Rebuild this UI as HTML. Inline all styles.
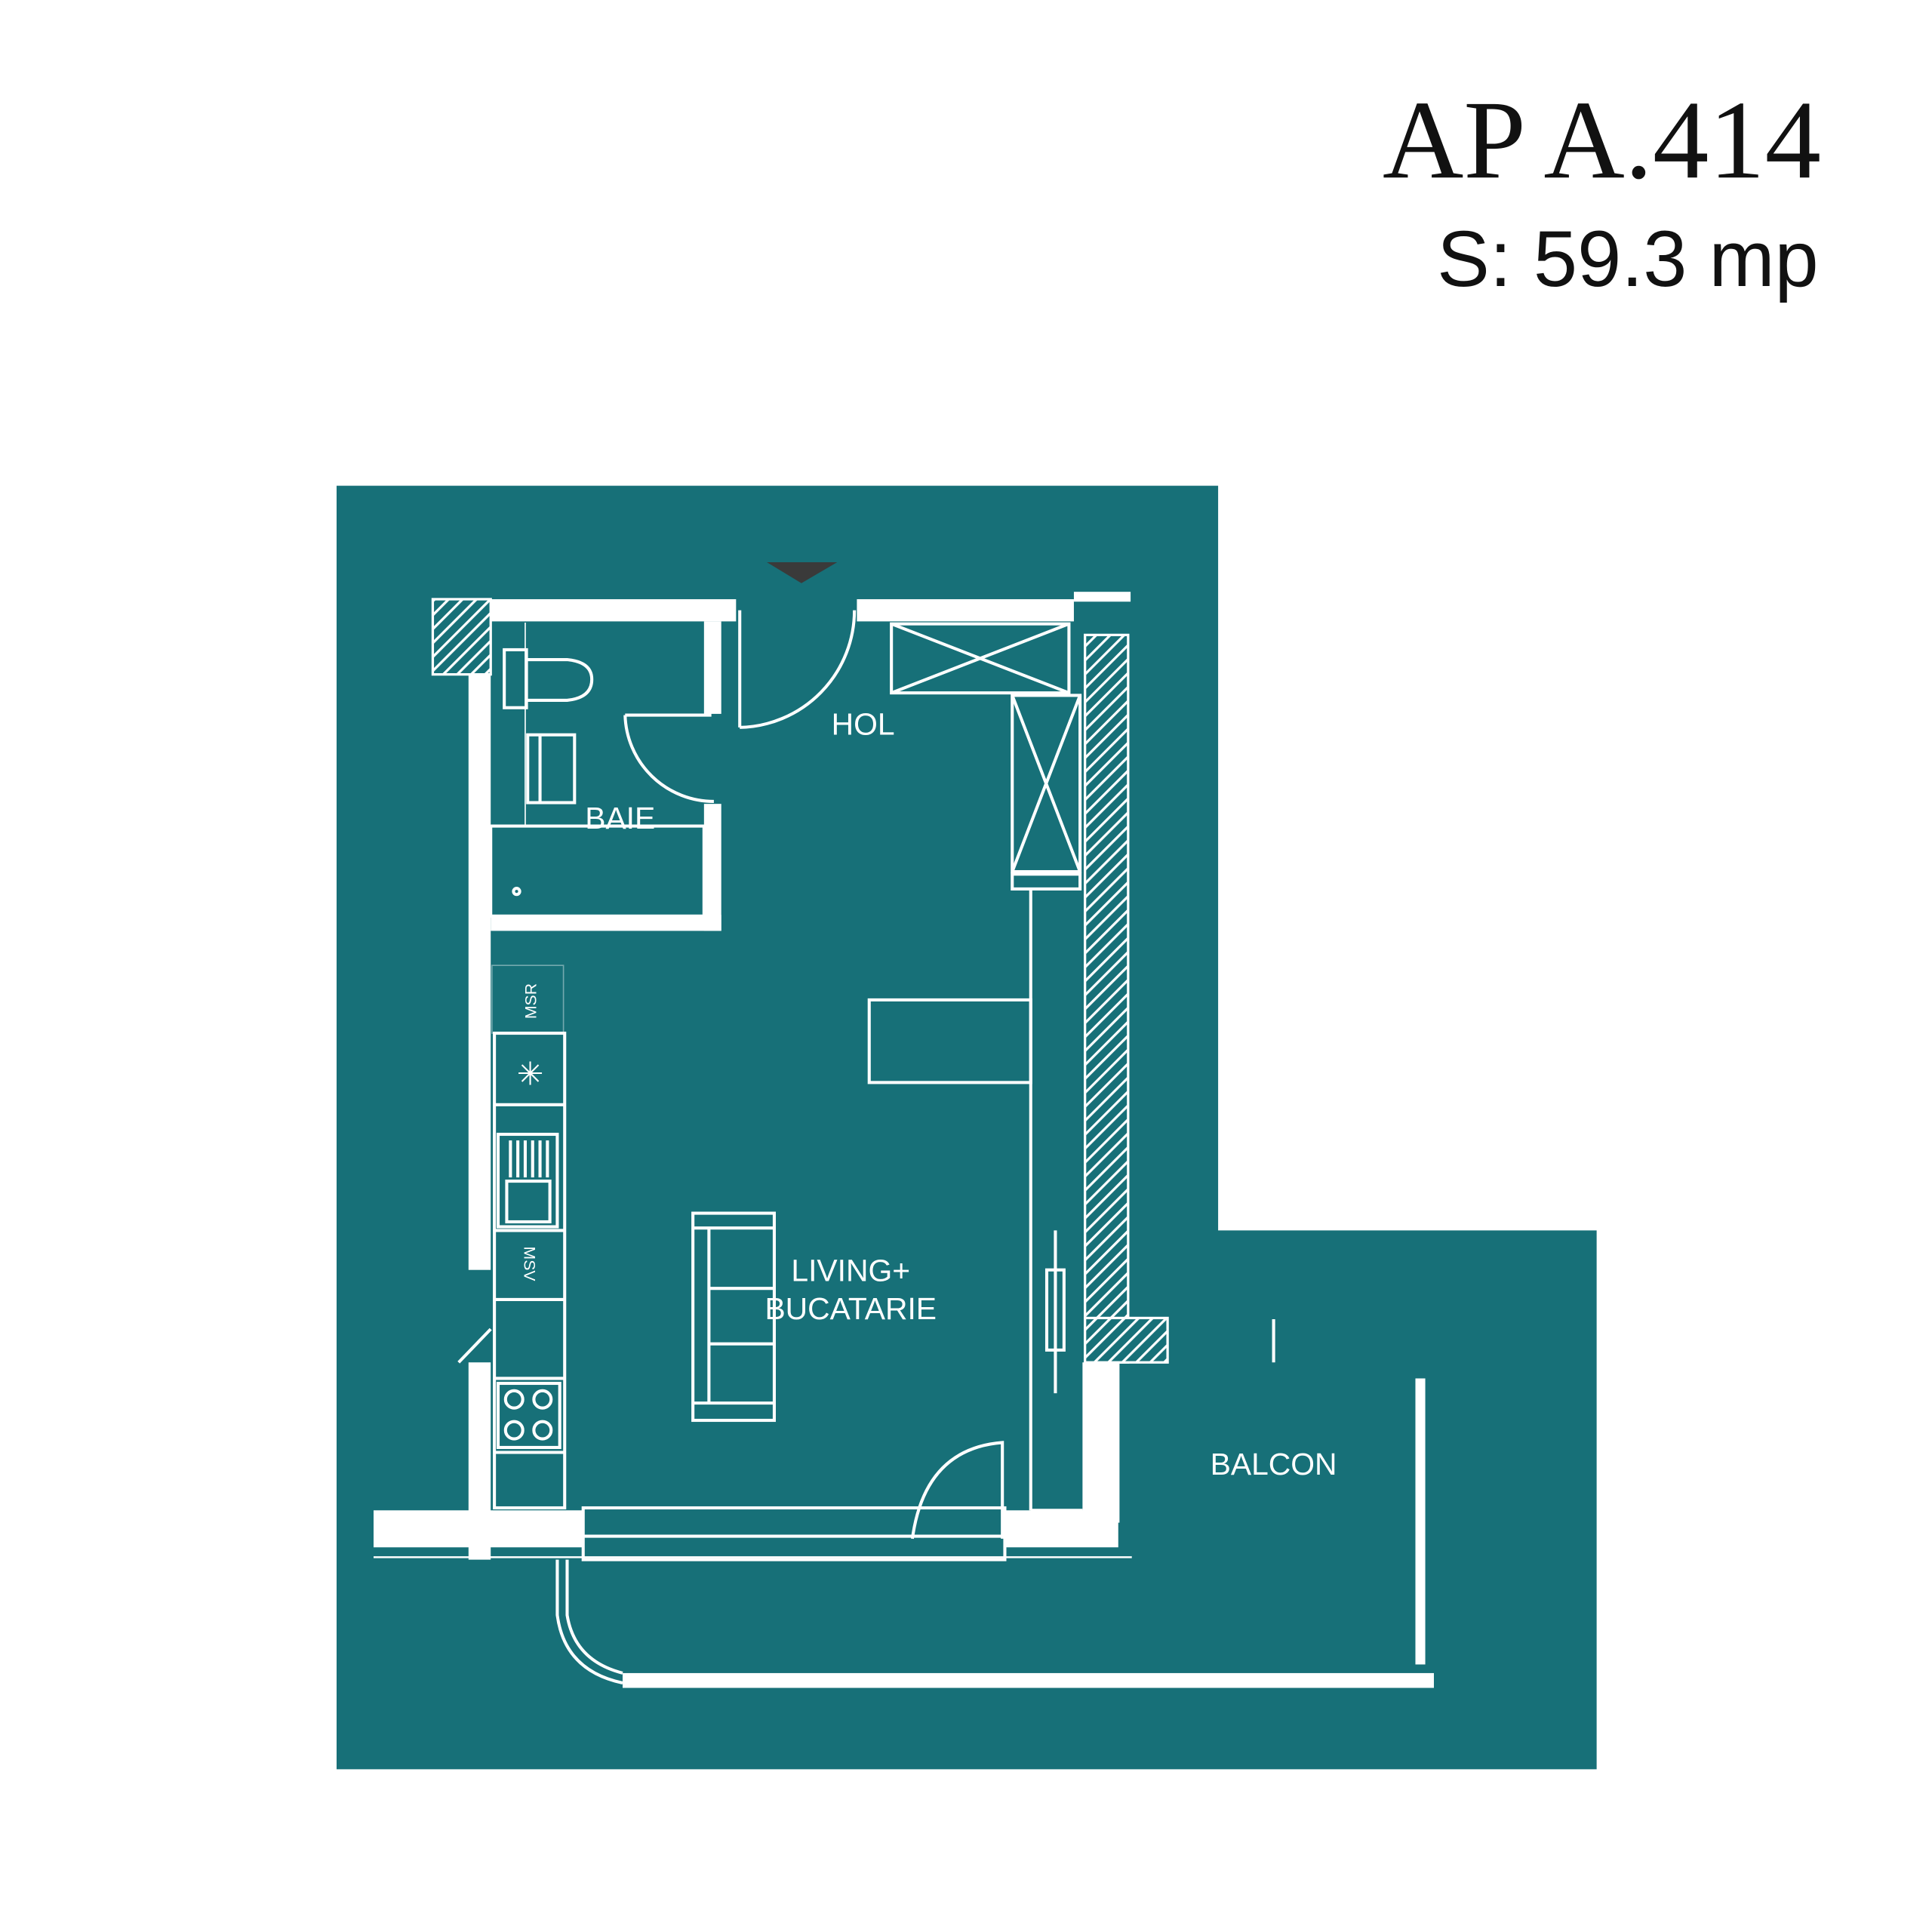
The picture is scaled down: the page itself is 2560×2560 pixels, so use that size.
<!DOCTYPE html>
<html><head><meta charset="utf-8"><style>
html,body{margin:0;padding:0;background:#fff}
svg{display:block}
</style></head><body>
<svg width="2560" height="2560" viewBox="0 0 1567 1567" xmlns="http://www.w3.org/2000/svg">
<defs>
<pattern id="h" width="8" height="8" patternUnits="userSpaceOnUse" patternTransform="rotate(45)">
<rect width="8" height="8" fill="#177078"/><rect width="2" height="8" fill="#fff"/>
</pattern>
</defs>
<rect width="1567" height="1567" fill="#fff"/>
<text x="1477" y="144" text-anchor="end" font-family="Liberation Serif, serif" font-size="91" fill="#111">AP A.414</text>
<text x="1475" y="232" text-anchor="end" font-family="Liberation Sans, sans-serif" font-size="64" fill="#111">S: 59.3 mp</text>
<polygon points="273,394 988,394 988,998 1295,998 1295,1435 273,1435" fill="#177078"/>
<polygon points="622,456 679,456 650,473" fill="#3a3a3a"/>
<g fill="url(#h)" stroke="#fff" stroke-width="2">
<rect x="351" y="486" width="47" height="61"/>
<rect x="880" y="515" width="35" height="590"/>
<rect x="880" y="1069" width="67" height="36"/>
</g>
<g fill="#fff">
<rect x="398" y="486" width="199" height="18"/>
<rect x="695" y="486" width="176" height="18"/>
<rect x="871" y="480" width="46" height="8"/>
<rect x="380" y="547" width="18" height="483"/>
<rect x="380" y="1105" width="18" height="160"/>
<rect x="571" y="504" width="14" height="75"/>
<rect x="571" y="652" width="14" height="103"/>
<rect x="398" y="742" width="187" height="13"/>
<rect x="303" y="1225" width="170" height="30"/>
<rect x="815" y="1225" width="92" height="30"/>
<rect x="878" y="1105" width="30" height="130"/>
<rect x="1148" y="1118" width="8" height="232"/>
<rect x="505" y="1357" width="658" height="12"/>
</g>
<g fill="none" stroke="#fff" stroke-width="2.5">
<path d="M600,590 A95,95 0 0 0 693,495"/>
<line x1="600" y1="495" x2="600" y2="590"/>
<path d="M507,580 A72,72 0 0 0 579,650"/>
<line x1="507" y1="580" x2="577" y2="580"/>
<rect x="723" y="506" width="144" height="56"/>
<path d="M723,506 L867,562 M867,506 L723,562"/>
<rect x="821" y="564" width="55" height="143"/>
<path d="M821,564 L876,707 M876,564 L821,707"/>
<rect x="821" y="709" width="55" height="12"/>
<line x1="836" y1="721" x2="836" y2="1225"/>
<line x1="836" y1="1225" x2="878" y2="1225"/>
<rect x="705" y="811" width="131" height="67"/>
<rect x="398" y="670" width="173" height="73"/>
<circle cx="419" cy="723" r="2.5"/>
<rect x="409" y="527" width="18" height="47"/>
<path d="M427,535 L460,535 Q480,537 480,551 Q480,566 460,568 L427,568"/>
<rect x="428" y="596" width="38" height="55"/>
<line x1="438" y1="596" x2="438" y2="651"/>
<line x1="426" y1="505" x2="426" y2="670" stroke-width="1"/>
<rect x="401" y="838" width="57" height="385"/>
<line x1="401" y1="896" x2="458" y2="896"/>
<line x1="401" y1="998" x2="458" y2="998"/>
<line x1="401" y1="1054" x2="458" y2="1054"/>
<line x1="401" y1="1118" x2="458" y2="1118"/>
<line x1="401" y1="1178" x2="458" y2="1178"/>
<rect x="404" y="920" width="48" height="75"/>
<rect x="411" y="958" width="35" height="33"/>
<path d="M414,925 V955 M420,925 V955 M426,925 V955 M432,925 V955 M438,925 V955 M444,925 V955"/>
<rect x="404" y="1122" width="50" height="52"/>
<circle cx="417" cy="1135" r="7"/><circle cx="440" cy="1135" r="7"/>
<circle cx="417" cy="1160" r="7"/><circle cx="440" cy="1160" r="7"/>
<rect x="562" y="984" width="66" height="168"/>
<line x1="575" y1="996" x2="575" y2="1138"/>
<line x1="562" y1="996" x2="628" y2="996"/>
<line x1="562" y1="1138" x2="628" y2="1138"/>
<line x1="575" y1="1045" x2="628" y2="1045"/>
<line x1="575" y1="1090" x2="628" y2="1090"/>
<line x1="856" y1="998" x2="856" y2="1130"/>
<rect x="849" y="1030" width="14" height="65"/>
<path d="M740,1248 Q750,1175 813,1170 L813,1248"/>
<rect x="473" y="1223" width="342" height="42"/>
<line x1="473" y1="1246" x2="815" y2="1246"/>
<line x1="303" y1="1263" x2="918" y2="1263" stroke-width="1.5"/>
<line x1="1033" y1="1070" x2="1033" y2="1105"/>
<path d="M452,1265 L452,1310 Q458,1355 505,1365 M460,1265 L460,1310 Q466,1347 505,1357"/>
<path d="M372,1105 L398,1078" />
<rect x="399" y="783" width="58" height="55" stroke-width="1" stroke-opacity="0.4"/>
</g>
<g font-family="Liberation Sans, sans-serif" fill="#fff" font-size="25" text-anchor="middle">
<text x="700" y="596">HOL</text>
<text x="503" y="672">BAIE</text>
<text x="690" y="1039">LIVING+</text>
<text x="690" y="1070">BUCATARIE</text>
<text x="1033" y="1196">BALCON</text>
<text x="0" y="0" font-size="13" transform="translate(435,812) rotate(-90)">MSR</text>
<text x="0" y="0" font-size="13" transform="translate(425,1025) rotate(90)">MSV</text>
<text x="430" y="880" font-size="26">✳</text>
</g>
</svg>
</body></html>
